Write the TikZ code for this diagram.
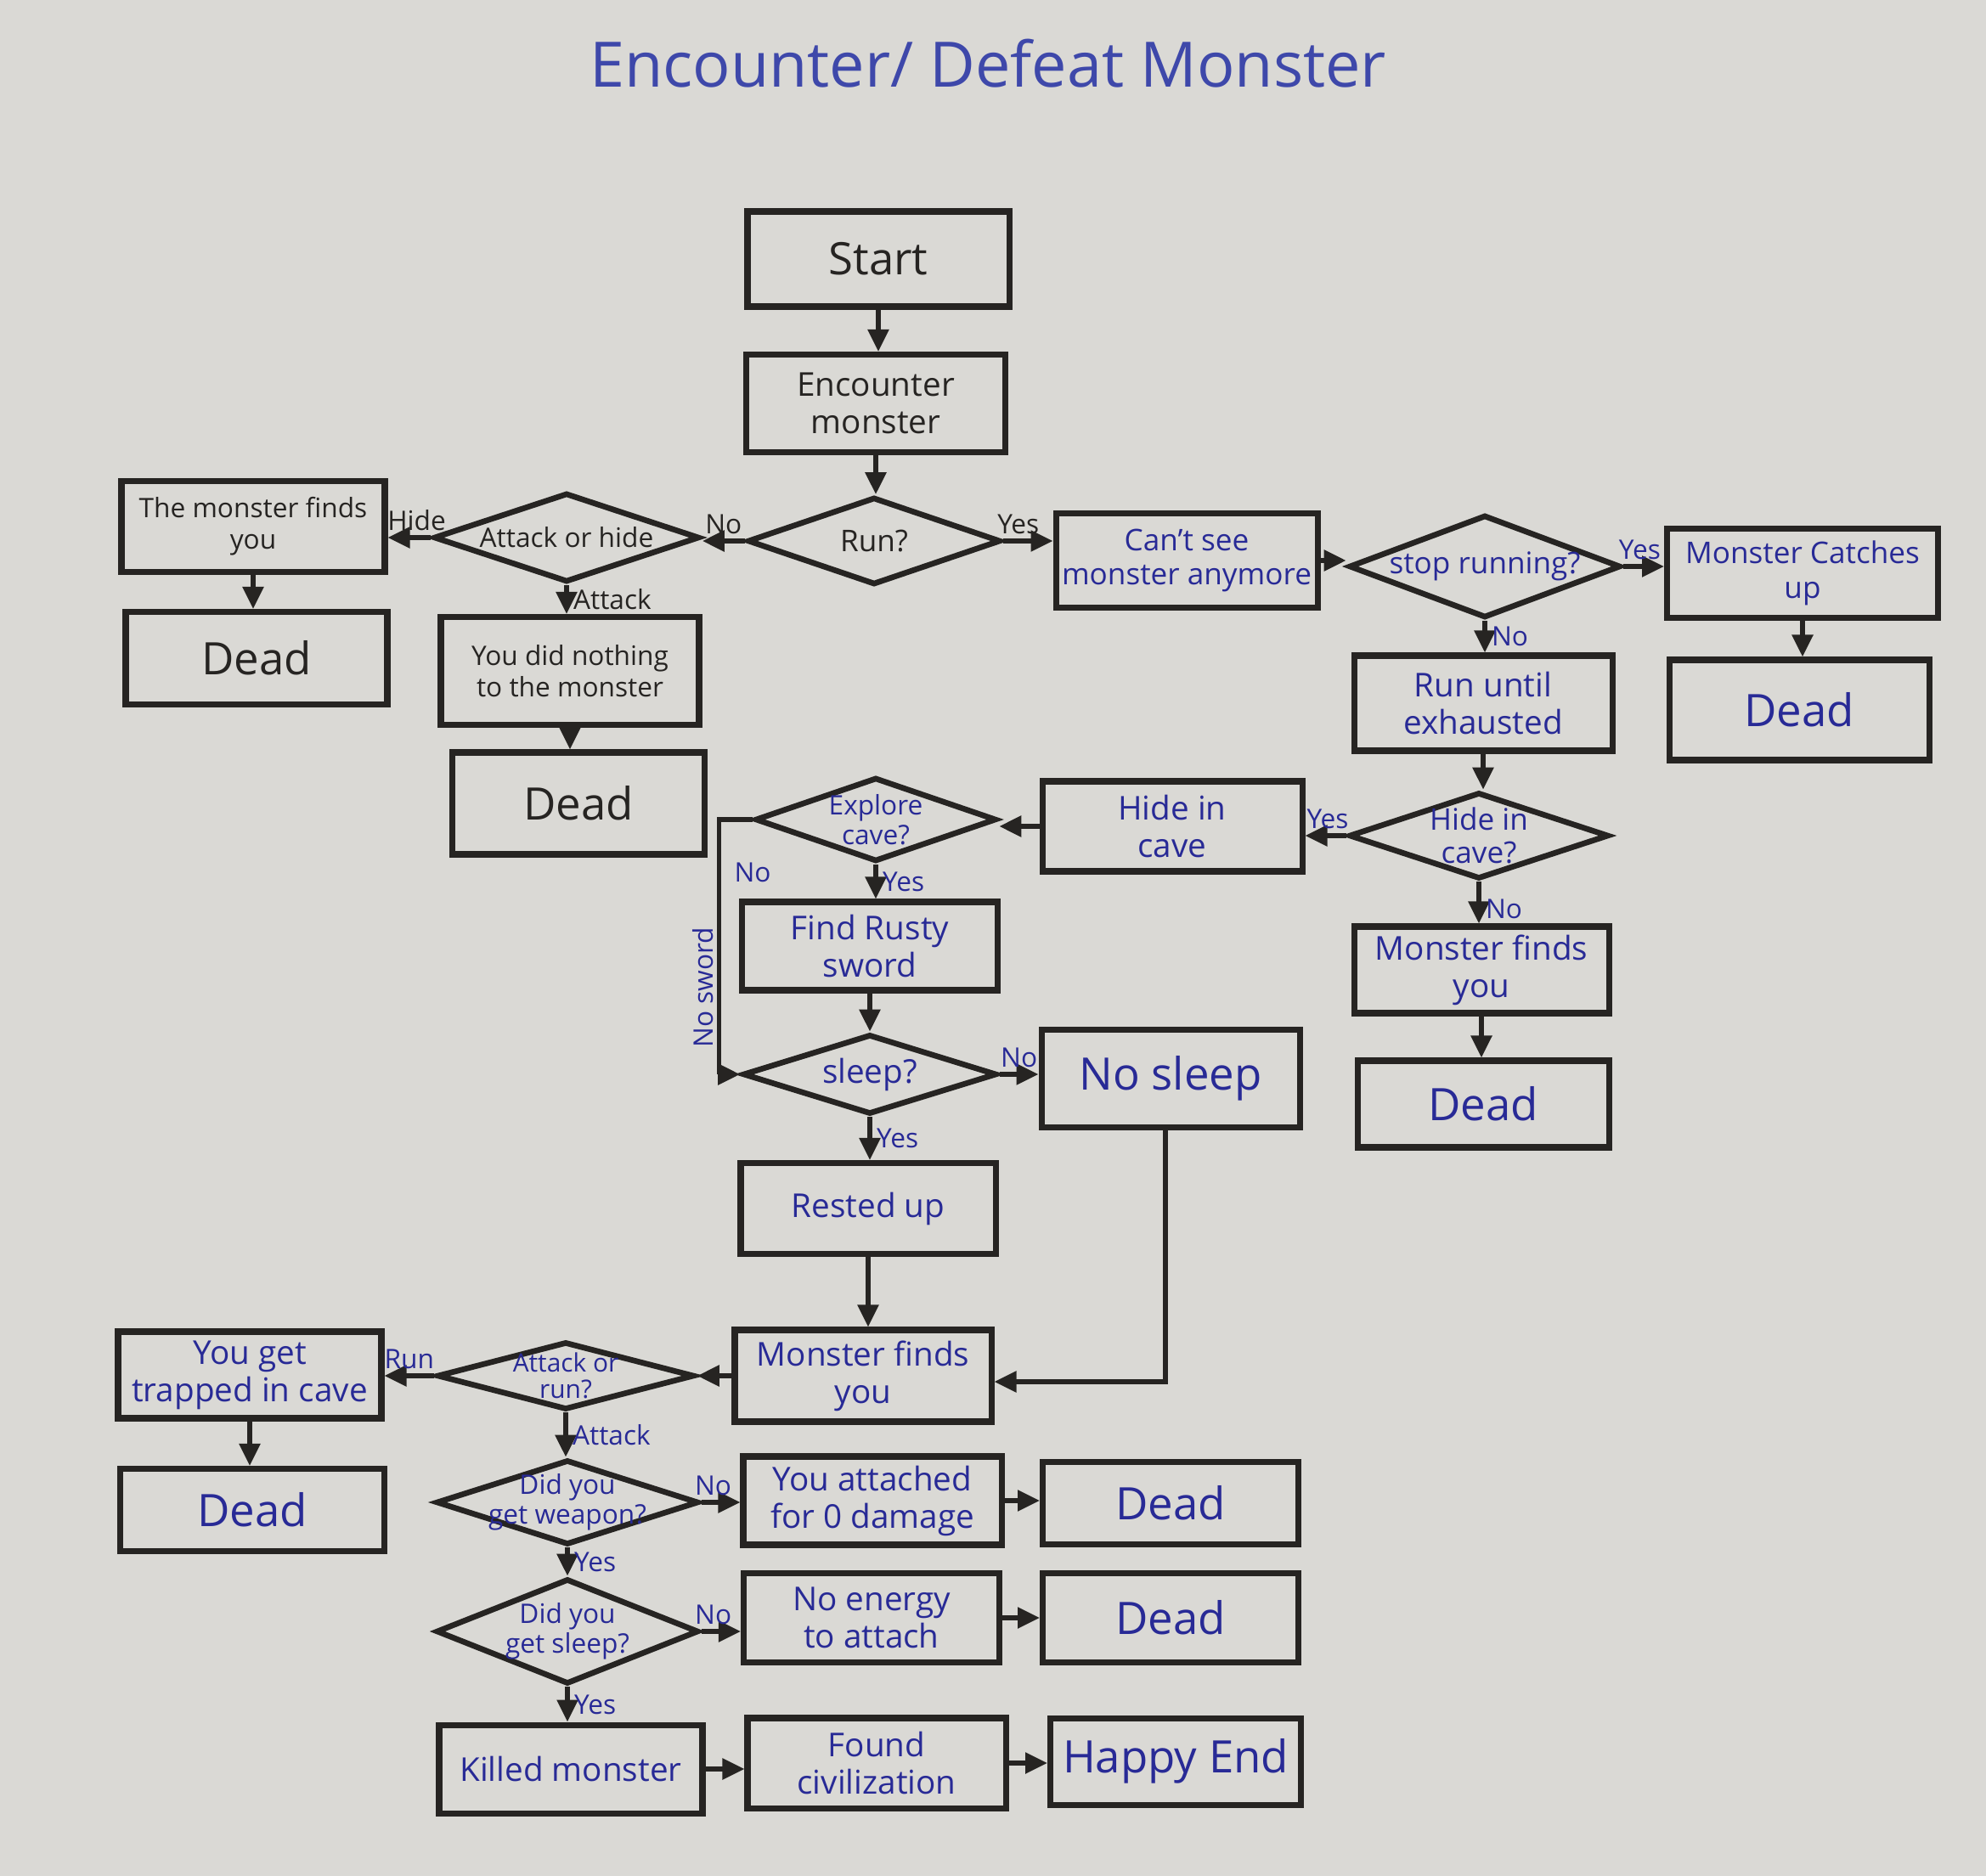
\documentclass[tikz,border=0pt]{standalone}
\usepackage{fontspec}
\setmainfont{Open Sans}
\usetikzlibrary{positioning,arrows.meta,shapes.geometric,calc}
\definecolor{paper}{RGB}{218,217,213}
\definecolor{ink}{RGB}{38,36,34}
\definecolor{pen}{RGB}{40,42,150}
\definecolor{titlepen}{RGB}{62,72,170}

\begin{document}
\begin{tikzpicture}[
    box/.style={rectangle, draw=ink, line width=2pt, minimum width=3.05cm, minimum height=1.06cm, align=center, inner sep=1pt, font=\fontsize{11}{12.5}\selectfont, text=pen},
    decision/.style={diamond, draw=ink, line width=1.9pt, inner sep=0pt, minimum width=3.05cm, minimum height=1.02cm},
    dtxt/.style={font=\fontsize{9}{10}\selectfont, text=pen, align=center},
    big/.style={font=\fontsize{15}{17}\selectfont},
    small/.style={font=\fontsize{9}{10.5}\selectfont},
    mid/.style={font=\fontsize{10}{11.5}\selectfont},
    dark/.style={text=ink},
    lbl/.style={font=\fontsize{9}{10}\selectfont, text=pen, inner sep=1.5pt},
    arrow/.style={-{Triangle[length=2.6mm,width=2.4mm]}, line width=1.6pt, draw=ink}
]
% paper
\fill[paper] (0,0) rectangle (23.38,-22.09);
\useasboundingbox (0,0) rectangle (23.38,-22.09);

\node[font=\fontsize{21}{24}\selectfont, text=titlepen] (title) at (11.63,-0.75) {Encounter/ Defeat Monster};

% top part
\node[box, big, dark, minimum width=3.08cm, minimum height=1.12cm] (start) at (10.34,-3.05) {Start};
\node[box, dark, minimum height=1.15cm] (enc) at (10.31,-4.75) {Encounter\\monster};
\node[decision, minimum width=2.98cm, minimum height=1.03cm, label={[dtxt, dark, font=\fontsize{10}{11}\selectfont]center:Run?}] (run) at (10.29,-6.37) {};
\node[decision, minimum width=3.13cm, minimum height=1.05cm, label={[dtxt, dark]center:Attack or hide}] (aoh) at (6.67,-6.33) {};
\node[box, small, dark, minimum width=3.10cm, minimum height=1.07cm] (mfy1) at (2.98,-6.20) {The monster finds\\you};
\node[box, big, dark, minimum width=3.08cm, minimum height=1.09cm] (dead1) at (3.02,-7.75) {Dead};
\node[box, small, dark, minimum width=3.04cm, minimum height=1.27cm] (nothing) at (6.71,-7.90) {You did nothing\\to the monster};
\node[box, big, dark, minimum width=2.97cm, minimum height=1.20cm] (dead2) at (6.81,-9.46) {Dead};

% running away
\node[box, mid, minimum width=3.08cm, minimum height=1.11cm] (cantsee) at (13.97,-6.60) {Can't see\\monster anymore};
\node[decision, minimum width=3.20cm, minimum height=1.21cm, label={[dtxt, font=\fontsize{10}{11}\selectfont]center:stop running?}] (stop) at (17.48,-6.67) {};
\node[box, mid, minimum width=3.19cm, minimum height=1.05cm] (catch) at (21.22,-6.75) {Monster Catches\\up};
\node[box, big, minimum width=3.06cm, minimum height=1.18cm] (dead3) at (21.18,-8.36) {Dead};
\node[box, minimum width=3.04cm, minimum height=1.12cm] (untl) at (17.46,-8.28) {Run until\\exhausted};
\node[decision, minimum width=3.06cm, minimum height=1.02cm, label={[dtxt, font=\fontsize{10}{11}\selectfont]center:Hide in\\cave?}] (hidq) at (17.41,-9.84) {};
\node[box, minimum width=3.06cm, minimum height=1.06cm] (hide) at (13.80,-9.73) {Hide in\\cave};
\node[box, minimum width=3.00cm, minimum height=1.02cm] (mfy2) at (17.44,-11.42) {Monster finds\\you};
\node[box, big, minimum width=2.96cm, minimum height=1.02cm] (dead4) at (17.46,-13.00) {Dead};

% cave
\node[decision, minimum width=2.84cm, minimum height=0.99cm, label={[dtxt]center:Explore\\cave?}] (explore) at (10.31,-9.65) {};
\node[box, minimum width=3.01cm, minimum height=1.04cm] (sword) at (10.24,-11.14) {Find Rusty\\sword};
\node[decision, minimum width=2.99cm, minimum height=0.94cm, label={[dtxt, font=\fontsize{11}{12}\selectfont]center:sleep?}] (sleep) at (10.24,-12.65) {};
\node[box, big, minimum width=3.04cm, minimum height=1.15cm] (nosleep) at (13.78,-12.70) {No sleep};
\node[box, minimum width=3.00cm, minimum height=1.07cm] (rested) at (10.22,-14.23) {Rested up};
\node[box, minimum width=3.02cm, minimum height=1.08cm] (mfy3) at (10.16,-16.20) {Monster finds\\you};
\node (nolbl) [lbl] at (8.86,-10.27) {No};
\node (swordlbl) [lbl, rotate=90] at (8.28,-11.63) {No sword};

% fight
\node[decision, minimum width=3.03cm, minimum height=0.80cm, label={[dtxt, font=\fontsize{8.5}{9}\selectfont]center:Attack or\\run?}] (aor) at (6.66,-16.20) {};
\node[box, minimum width=3.10cm, minimum height=1.02cm] (trapped) at (2.94,-16.19) {You get\\trapped in cave};
\node[box, big, minimum width=3.11cm, minimum height=0.97cm] (dead5) at (2.97,-17.78) {Dead};
\node[decision, minimum width=3.09cm, minimum height=1.00cm, label={[dtxt]center:Did you\\get weapon?}] (weapon) at (6.68,-17.69) {};
\node[box, minimum width=3.04cm, minimum height=1.04cm] (zero) at (10.27,-17.67) {You attached\\for 0 damage};
\node[box, big, minimum width=3.01cm, minimum height=0.97cm] (dead6) at (13.78,-17.70) {Dead};
\node[decision, minimum width=3.09cm, minimum height=1.24cm, label={[dtxt]center:Did you\\get sleep?}] (sleepq) at (6.68,-19.21) {};
\node[box, minimum width=3.01cm, minimum height=1.05cm] (energy) at (10.26,-19.05) {No energy\\to attach};
\node[box, big, minimum width=3.01cm, minimum height=1.05cm] (dead7) at (13.78,-19.05) {Dead};
\node[box, minimum width=3.10cm, minimum height=1.04cm] (killed) at (6.72,-20.83) {Killed monster};
\node[box, minimum width=3.04cm, minimum height=1.06cm] (civ) at (10.32,-20.76) {Found\\civilization};
\node[box, big, minimum width=2.95cm, minimum height=1.02cm] (happy) at (13.84,-20.74) {Happy End};

\draw[arrow] (start.south) -- (start.south |- enc.north);
\draw[arrow] (enc.south) -- (enc.south |- run.north);
\draw[arrow] (run.west) -- node[lbl, dark, above] {No} (run.west -| aoh.east);
\draw[arrow] (run.east) -- node[lbl, dark, above, pos=0.3] {Yes} (run.east -| cantsee.west);
\draw[arrow] (aoh.west) -- node[lbl, dark, above, xshift=2.5pt] {Hide} (aoh.west -| mfy1.east);
\draw[arrow] (aoh.south) -- node[lbl, dark, right] {Attack} (aoh.south |- nothing.north);
\draw[arrow] (mfy1.south) -- (mfy1.south |- dead1.north);
\draw[arrow] (nothing.south) -- (nothing.south |- dead2.north);
\draw[arrow] (cantsee.east) -- (cantsee.east -| stop.west);
\draw[arrow] (stop.east) -- node[lbl, above, pos=0.4] {Yes} (stop.east -| catch.west);
\draw[arrow] (stop.south) -- node[lbl, right] {No} (stop.south |- untl.north);
\draw[arrow] (catch.south) -- (catch.south |- dead3.north);
\draw[arrow] (untl.south) -- (untl.south |- hidq.north);
\draw[arrow] (hidq.west) -- node[lbl, above, pos=0.45] {Yes} (hidq.west -| hide.east);
\draw[arrow] (hidq.south) -- node[lbl, right, pos=0.65] {No} (hidq.south |- mfy2.north);
\draw[arrow] (mfy2.south) -- (mfy2.south |- dead4.north);
\draw[arrow] (hide.west) -- (hide.west -| explore.east);
\draw[arrow] (explore.south) -- node[lbl, right] {Yes} (explore.south |- sword.north);
\draw[arrow] (explore.west) -- ++(-0.39,0) |- (sleep.west);
\draw[arrow] (sword.south) -- (sword.south |- sleep.north);
\draw[arrow] (sleep.east) -- node[lbl, above] {No} (sleep.east -| nosleep.west);
\draw[arrow] (sleep.south) -- node[lbl, right] {Yes} (sleep.south |- rested.north);
\draw[arrow] (rested.south) -- (rested.south |- mfy3.north);
\draw[arrow] ([xshift=-0.06cm]nosleep.south) |- ([yshift=-0.07cm]mfy3.east);
\draw[arrow] (mfy3.west) -- (mfy3.west -| aor.east);
\draw[arrow] (aor.west) -- node[lbl, above] {Run} (aor.west -| trapped.east);
\draw[arrow] (aor.south) -- node[lbl, right] {Attack} (aor.south |- weapon.north);
\draw[arrow] (trapped.south) -- (trapped.south |- dead5.north);
\draw[arrow] (weapon.east) -- node[lbl, above, pos=0.3] {No} (weapon.east -| zero.west);
\draw[arrow] (weapon.south) -- node[lbl, right] {Yes} (weapon.south |- sleepq.north);
\draw[arrow] (zero.east) -- (zero.east -| dead6.west);
\draw[arrow] (sleepq.east) -- node[lbl, above, pos=0.3] {No} (sleepq.east -| energy.west);
\draw[arrow] (energy.east) -- (energy.east -| dead7.west);
\draw[arrow] (sleepq.south) -- node[lbl, right] {Yes} (sleepq.south |- killed.north);
\draw[arrow] (killed.east) -- (killed.east -| civ.west);
\draw[arrow] (civ.east) -- (civ.east -| happy.west);
\end{tikzpicture}
\end{document}
